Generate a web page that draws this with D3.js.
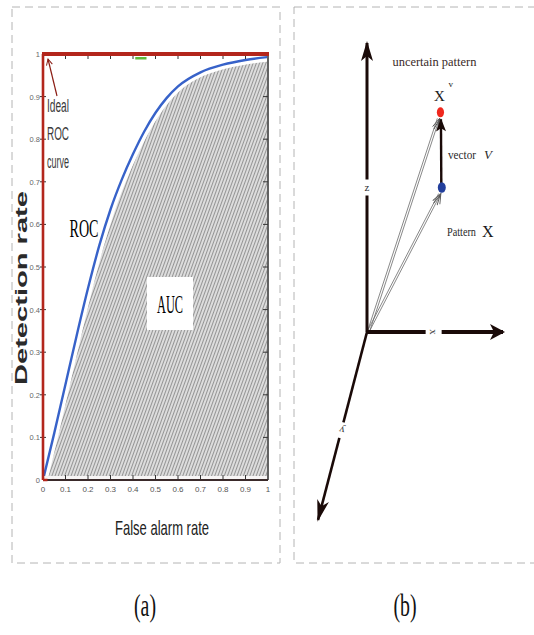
<!DOCTYPE html>
<html lang="en">
  <head>
    <meta charset="utf-8" />
    <title>D3: ROC / AUC and uncertain pattern vector</title>
    <script src="https://d3js.org/d3.v7.min.js"></script>
    <style type="text/css">
      body { margin: 0; background: #fff; }
      svg { display: block; }
    </style>
  </head>
  <body>
    <script type="text/javascript">
      //Width and height
      const w = 534;
      const h = 635;

      //ROC curve
      const fpr = [0, 0.05, 0.1, 0.15, 0.2, 0.25, 0.3, 0.35, 0.4, 0.45, 0.5, 0.55, 0.6, 0.7, 0.8, 0.9, 1];
      const tpr = [0, 0.11, 0.225, 0.34, 0.45, 0.55, 0.635, 0.705, 0.765, 0.818, 0.862, 0.897, 0.924, 0.957, 0.975, 0.986, 0.993];
      const xTicks = [0, 0.1, 0.2, 0.3, 0.4, 0.5, 0.6, 0.7, 0.8, 0.9, 1];
      const yTicks = [0, 0.1, 0.2, 0.3, 0.4, 0.5, 0.6, 0.7, 0.8, 0.9, 1];
      const idealLines = ['Ideal', 'ROC', 'curve'];

      //diagram (b): points in the drawing's own units
      const axisNames = ['x', 'y', 'z'];
      const axisEnds = [[10, 0], [-3.6, -6.5], [0, 10]];
      const axisLabelAt = [[4.9, 0], [-1.85, -3.4], [0, 5.0]];
      const patternX = [5.5, 5.0];
      const patternXv = [5.4, 7.6];

      const svg = d3.select('body').append('svg').attr('width', w).attr('height', h);
      const defs = svg.append('defs');

      //diagonal hatch for AUC
      const hatch = defs.append('pattern')
        .attr('id', 'hatch')
        .attr('width', 3)
        .attr('height', 3)
        .attr('patternUnits', 'userSpaceOnUse')
        .attr('patternTransform', 'rotate(20)');
      hatch.append('rect').attr('width', 3).attr('height', 3).attr('fill', '#f6f6f6');
      hatch.append('line').attr('x1', 1.5).attr('x2', 1.5).attr('y1', 0).attr('y2', 3)
        .attr('stroke', '#949494').attr('stroke-width', 1.5);

      //arrow heads
      function marker(id, path, color) {
        defs.append('marker')
          .attr('id', id)
          .attr('viewBox', '-20 -20 40 40')
          .attr('refX', 0).attr('refY', 0)
          .attr('markerUnits', 'userSpaceOnUse')
          .attr('markerWidth', 40).attr('markerHeight', 40)
          .attr('orient', 'auto')
          .append('path').attr('d', path).attr('fill', color);
      }
      marker('bigArrow', 'M2,0 L-13,-8 L-9,0 L-13,8 Z', '#1a0a08');
      marker('zArrow', 'M2,0 L-18,-6 L-13,0 L-18,6 Z', '#1a0a08');
      marker('yArrow', 'M2,0 L-20,-6 L-14,0 L-20,6 Z', '#1a0a08');
      marker('vArrow', 'M1,0 L-12,-5 L-9,0 L-12,5 Z', '#1a0a08');
      defs.append('marker')
        .attr('id', 'thinArrow')
        .attr('viewBox', '-20 -20 40 40')
        .attr('refX', 0).attr('refY', 0)
        .attr('markerUnits', 'userSpaceOnUse')
        .attr('markerWidth', 40).attr('markerHeight', 40)
        .attr('orient', 'auto')
        .append('path').attr('d', 'M-10,-4 L0,0 L-10,4 M-12,-2 L-2,0 L-12,2')
        .attr('fill', 'none').attr('stroke', '#555').attr('stroke-width', 0.9);
      defs.append('marker')
        .attr('id', 'redArrow')
        .attr('viewBox', '-20 -20 40 40')
        .attr('refX', 0).attr('refY', 0)
        .attr('markerUnits', 'userSpaceOnUse')
        .attr('markerWidth', 40).attr('markerHeight', 40)
        .attr('orient', 'auto')
        .append('path').attr('d', 'M-6,-3 L0,0 L-6,3').attr('fill', 'none')
        .attr('stroke', '#8b1d14').attr('stroke-width', 1);

      //dashed panel frames
      const frames = [[12, 7, 268, 556], [294, 7, 260, 556]];
      svg.selectAll('rect.frame')
        .data(frames)
        .enter()
        .append('rect')
        .attr('class', 'frame')
        .attr('x', (d) => d[0]).attr('y', (d) => d[1])
        .attr('width', (d) => d[2]).attr('height', (d) => d[3])
        .attr('fill', 'none')
        .attr('stroke', '#b4b4b4')
        .attr('stroke-width', 1)
        .attr('stroke-dasharray', '8,5');

      // ---------------- panel (a) ----------------
      const xScale = d3.scaleLinear().domain([0, 1]).range([43, 268]);
      const yScale = d3.scaleLinear().domain([0, 1]).range([480, 54]);
      const roc = fpr.map((f, i) => [f, tpr[i]]);

      defs.append('clipPath').attr('id', 'plotClip')
        .append('rect')
        .attr('x', xScale(0)).attr('y', yScale(1))
        .attr('width', xScale(1) - xScale(0) - 1)
        .attr('height', yScale(0) - yScale(1) - 4);

      const plot = svg.append('g').attr('clip-path', 'url(#plotClip)');

      const area = d3.area()
        .x((d) => xScale(d[0]))
        .y0(yScale(0))
        .y1((d) => yScale(d[1]))
        .curve(d3.curveMonotoneX);
      const line = d3.line()
        .x((d) => xScale(d[0]))
        .y((d) => yScale(d[1]))
        .curve(d3.curveMonotoneX);

      plot.append('path').datum(roc).attr('d', area).attr('fill', 'url(#hatch)');
      //white gap between curve and hatch
      plot.append('path').datum(roc).attr('d', line)
        .attr('fill', 'none').attr('stroke', '#fff').attr('stroke-width', 9);
      plot.append('path').datum(roc).attr('d', line)
        .attr('fill', 'none').attr('stroke', '#3762c9').attr('stroke-width', 2.4);

      //white band above bottom axis
      svg.append('rect')
        .attr('x', xScale(0)).attr('y', yScale(0) - 4)
        .attr('width', xScale(1) - xScale(0)).attr('height', 4)
        .attr('fill', '#f7f5f5');

      //AUC box + labels
      svg.append('rect')
        .attr('x', 147).attr('y', 277).attr('width', 46).attr('height', 53)
        .attr('fill', '#fff');
      svg.append('text')
        .attr('x', 170).attr('y', 313)
        .attr('text-anchor', 'middle')
        .attr('font-family', 'Liberation Serif, serif')
        .attr('font-size', '25px')
        .attr('textLength', 26)
        .attr('lengthAdjust', 'spacingAndGlyphs')
        .attr('fill', '#000')
        .text('AUC');
      svg.append('text')
        .attr('x', 84).attr('y', 237)
        .attr('text-anchor', 'middle')
        .attr('font-family', 'Liberation Serif, serif')
        .attr('font-size', '26px')
        .attr('textLength', 29)
        .attr('lengthAdjust', 'spacingAndGlyphs')
        .attr('fill', '#000')
        .text('ROC');

      //axis ticks (inside)
      const tickColor = '#333';
      svg.selectAll('line.topTick').data(xTicks.slice(1, -1)).enter().append('line')
        .attr('x1', (d) => xScale(d)).attr('x2', (d) => xScale(d))
        .attr('y1', yScale(1)).attr('y2', yScale(1) + 5)
        .attr('stroke', tickColor).attr('stroke-width', 1);
      svg.selectAll('line.botTick').data(xTicks.slice(1, -1)).enter().append('line')
        .attr('x1', (d) => xScale(d)).attr('x2', (d) => xScale(d))
        .attr('y1', yScale(0)).attr('y2', yScale(0) - 5)
        .attr('stroke', tickColor).attr('stroke-width', 1);
      svg.selectAll('line.rightTick').data(yTicks.slice(1, -1)).enter().append('line')
        .attr('x1', xScale(1)).attr('x2', xScale(1) - 5)
        .attr('y1', (d) => yScale(d)).attr('y2', (d) => yScale(d))
        .attr('stroke', tickColor).attr('stroke-width', 1);
      svg.selectAll('line.leftTick').data(yTicks.slice(1, -1)).enter().append('line')
        .attr('x1', xScale(0) - 3).attr('x2', xScale(0) + 3)
        .attr('y1', (d) => yScale(d)).attr('y2', (d) => yScale(d))
        .attr('stroke', tickColor).attr('stroke-width', 1);

      //frame: right + bottom dark, top + left red (ideal ROC)
      svg.append('line')
        .attr('x1', xScale(1)).attr('x2', xScale(1))
        .attr('y1', yScale(1)).attr('y2', yScale(0))
        .attr('stroke', '#3a3a3a').attr('stroke-width', 1.6);
      svg.append('line')
        .attr('x1', xScale(0)).attr('x2', xScale(1))
        .attr('y1', yScale(0)).attr('y2', yScale(0))
        .attr('stroke', '#3a2a2a').attr('stroke-width', 2);
      svg.append('line')
        .attr('x1', xScale(0)).attr('x2', xScale(0.02))
        .attr('y1', yScale(0)).attr('y2', yScale(0))
        .attr('stroke', '#b3261c').attr('stroke-width', 2.5);
      svg.append('line')
        .attr('x1', xScale(0)).attr('x2', xScale(0))
        .attr('y1', yScale(1)).attr('y2', yScale(0))
        .attr('stroke', '#b3261c').attr('stroke-width', 2.6);
      svg.append('line')
        .attr('x1', xScale(0) - 1).attr('x2', xScale(1) + 1)
        .attr('y1', yScale(1)).attr('y2', yScale(1))
        .attr('stroke', '#b3261c').attr('stroke-width', 4);
      //small green mark near top
      svg.append('line')
        .attr('x1', xScale(0.41)).attr('x2', xScale(0.46))
        .attr('y1', yScale(0.99)).attr('y2', yScale(0.99))
        .attr('stroke', '#5fb83a').attr('stroke-width', 2.5);

      //tick labels
      svg.selectAll('text.xTick').data(xTicks).enter().append('text')
        .attr('x', (d) => xScale(d)).attr('y', yScale(0) + 12)
        .attr('text-anchor', 'middle')
        .attr('font-family', 'Liberation Sans Narrow, Arial Narrow, sans-serif')
        .attr('font-size', '8px')
        .attr('fill', '#555')
        .text((d) => d);
      svg.selectAll('text.yTick').data(yTicks).enter().append('text')
        .attr('x', xScale(0) - 3).attr('y', (d) => yScale(d) + 3)
        .attr('text-anchor', 'end')
        .attr('font-family', 'Liberation Sans Narrow, Arial Narrow, sans-serif')
        .attr('font-size', '7.5px')
        .attr('fill', '#666')
        .text((d) => d);

      //axis titles
      svg.append('text')
        .attr('x', 162).attr('y', 535)
        .attr('text-anchor', 'middle')
        .attr('font-family', 'Liberation Sans, Arial, sans-serif')
        .attr('font-size', '21px')
        .attr('textLength', 94)
        .attr('lengthAdjust', 'spacingAndGlyphs')
        .attr('fill', '#222')
        .text('False alarm rate');
      svg.append('text')
        .attr('transform', 'translate(27,288) rotate(-90)')
        .attr('text-anchor', 'middle')
        .attr('font-family', 'Liberation Sans, Arial, sans-serif')
        .attr('font-weight', 'bold')
        .attr('font-size', '17px')
        .attr('textLength', 194)
        .attr('lengthAdjust', 'spacingAndGlyphs')
        .attr('fill', '#2a2a2a')
        .text('Detection rate');

      //Ideal ROC curve note with arrow
      svg.selectAll('text.ideal').data(idealLines).enter().append('text')
        .attr('x', 47).attr('y', (d, i) => 112 + i * 28)
        .attr('font-family', 'Liberation Sans, Arial, sans-serif')
        .attr('font-size', '18px')
        .attr('textLength', 22)
        .attr('lengthAdjust', 'spacingAndGlyphs')
        .attr('fill', '#3a3a3a')
        .text((d) => d);
      svg.append('line')
        .attr('x1', 57).attr('y1', 96).attr('x2', 48).attr('y2', 59)
        .attr('stroke', '#8b1d14').attr('stroke-width', 1.2)
        .attr('marker-end', 'url(#redArrow)');

      // ---------------- panel (b) ----------------
      const dx = d3.scaleLinear().domain([0, 10]).range([367, 503]);
      const dz = d3.scaleLinear().domain([0, 10]).range([332, 43]);
      const axisStyle = [
        { width: 4.2, marker: 'bigArrow' },
        { width: 2.6, marker: 'yArrow' },
        { width: 3, marker: 'zArrow' },
      ];

      //thin vectors from the origin (drawn as double lines)
      const vecTargets = [patternXv, patternX];
      vecTargets.forEach((p) => {
        [-1.1, 1.1].forEach((off) => {
          svg.append('line')
            .attr('x1', dx(0) + 2 + off).attr('y1', dz(0) - 2)
            .attr('x2', dx(p[0]) - 2 + off).attr('y2', dz(p[1]) + 6)
            .attr('stroke', '#6a6a6a').attr('stroke-width', 0.8)
            .attr('marker-end', off > 0 ? 'url(#thinArrow)' : null);
        });
      });

      //axes
      axisNames.forEach((name, i) => {
        svg.append('line')
          .attr('x1', dx(0)).attr('y1', dz(0))
          .attr('x2', dx(axisEnds[i][0])).attr('y2', dz(axisEnds[i][1]))
          .attr('stroke', '#1a0a08')
          .attr('stroke-width', axisStyle[i].width)
          .attr('marker-end', `url(#${axisStyle[i].marker})`);
        const lx = dx(axisLabelAt[i][0]);
        const ly = dz(axisLabelAt[i][1]);
        const ang = Math.atan2(dz(axisEnds[i][1]) - dz(0), dx(axisEnds[i][0]) - dx(0)) * 180 / Math.PI;
        const g = svg.append('g').attr('transform', `translate(${lx},${ly}) rotate(${ang})`);
        g.append('rect').attr('x', -8).attr('y', -6).attr('width', 16).attr('height', 12).attr('fill', '#fff');
        g.append('text')
          .attr('x', 0).attr('y', 0)
          .attr('dy', '0.32em')
          .attr('text-anchor', 'middle')
          .attr('font-family', 'Liberation Serif, serif')
          .attr('font-size', '11px')
          .attr('fill', '#333')
          .attr('transform', 'rotate(90)')
          .text(name);
      });

      //vector V from X to X^v
      svg.append('line')
        .attr('x1', dx(patternX[0]) - 0.5).attr('y1', dz(patternX[1]) - 4)
        .attr('x2', dx(patternXv[0]) + 0.5).attr('y2', dz(patternXv[1]) + 7)
        .attr('stroke', '#1a0a08').attr('stroke-width', 2.4)
        .attr('marker-end', 'url(#vArrow)');

      //points
      svg.append('ellipse')
        .attr('cx', dx(patternXv[0])).attr('cy', dz(patternXv[1]))
        .attr('rx', 3.6).attr('ry', 5)
        .attr('fill', '#f0281e');
      svg.append('ellipse')
        .attr('cx', dx(patternX[0])).attr('cy', dz(patternX[1]))
        .attr('rx', 4).attr('ry', 5.2)
        .attr('fill', '#233f9c');

      //annotations
      const serif = 'Liberation Serif, serif';
      svg.append('text')
        .attr('x', dx(patternXv[0]) - 6).attr('y', dz(patternXv[1]) - 46)
        .attr('text-anchor', 'middle')
        .attr('font-family', serif).attr('font-size', '12px')
        .attr('textLength', 84).attr('lengthAdjust', 'spacingAndGlyphs')
        .attr('fill', '#3a2a28')
        .text('uncertain pattern');
      svg.append('text')
        .attr('x', dx(patternXv[0]) - 1).attr('y', dz(patternXv[1]) - 11)
        .attr('text-anchor', 'middle')
        .attr('font-family', serif).attr('font-size', '15px')
        .attr('fill', '#1a1a1a')
        .text('X');
      svg.append('text')
        .attr('x', dx(patternXv[0]) + 8).attr('y', dz(patternXv[1]) - 25)
        .attr('font-family', serif).attr('font-size', '9px')
        .attr('fill', '#1a1a1a')
        .text('v');
      svg.append('text')
        .attr('x', 448).attr('y', dz(7.6) + 47)
        .attr('font-family', serif).attr('font-size', '12px')
        .attr('textLength', 28).attr('lengthAdjust', 'spacingAndGlyphs')
        .attr('fill', '#2a2a2a')
        .text('vector');
      svg.append('text')
        .attr('x', 484).attr('y', dz(7.6) + 47)
        .attr('font-family', serif).attr('font-size', '13px')
        .attr('font-style', 'italic')
        .attr('fill', '#2a2a2a')
        .text('V');
      svg.append('text')
        .attr('x', 447).attr('y', dz(patternX[1]) + 48)
        .attr('font-family', serif).attr('font-size', '12px')
        .attr('textLength', 29).attr('lengthAdjust', 'spacingAndGlyphs')
        .attr('fill', '#2a2a2a')
        .text('Pattern');
      svg.append('text')
        .attr('x', 482).attr('y', dz(patternX[1]) + 49)
        .attr('font-family', serif).attr('font-size', '16px')
        .attr('fill', '#1a1a1a')
        .text('X');

      //captions
      const captions = [['(a)', 145], ['(b)', 405]];
      svg.selectAll('text.caption').data(captions).enter().append('text')
        .attr('transform', (d) => `translate(${d[1]},616) scale(0.62,1)`)
        .attr('text-anchor', 'middle')
        .attr('font-family', serif)
        .attr('font-size', '32px')
        .attr('fill', '#111')
        .text((d) => d[0]);
    </script>
  </body>
</html>
